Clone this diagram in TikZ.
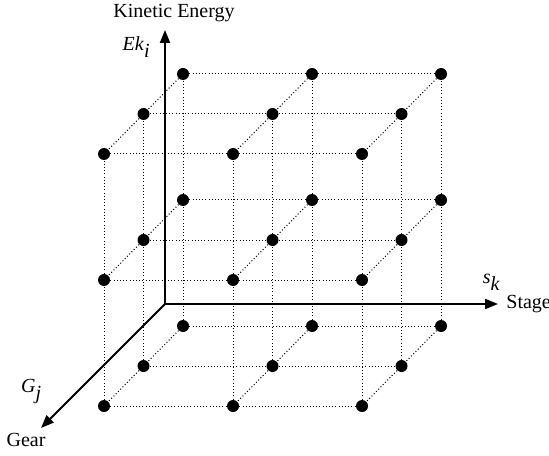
\documentclass[tikz,border=0pt]{standalone}
\usepackage{fontspec}
\setmainfont{Liberation Serif}
\usetikzlibrary{arrows.meta}
\tikzset{
  state/.style={circle,fill=black,inner sep=0pt,minimum size=6pt},
  lattice/.style={black,line width=0.5pt,dash pattern=on 0.5pt off 1.1pt},
  axis/.style={line width=1pt,-{Triangle[length=6.5pt,width=5pt]}},
}
\newcommand{\sublabel}[2]{\textit{#1}$_{\textit{#2}}$}

\begin{document}
\begin{tikzpicture}[x=1pt,y=1pt,font=\fontsize{10}{12}\selectfont]
\useasboundingbox (0,0) rectangle (274.5,227.5);
\begin{scope}[shift={(91.5,64.5)},x={(64.5pt,0pt)},y={(0pt,63pt)},z={(-19.75pt,-20pt)}]
\foreach \i in {0,1,2}{
  \foreach \j in {0,1,2}{
    \foreach \k in {0,1,2}{
      \node[state] (p-\i-\j-\k) at (\i,\j,\k) {};
    }
  }
}
\end{scope}
\foreach \a in {0,1,2}{
  \foreach \b in {0,1,2}{
    \draw[lattice] (p-0-\a-\b) -- (p-1-\a-\b) -- (p-2-\a-\b);
    \draw[lattice] (p-\a-0-\b) -- (p-\a-1-\b) -- (p-\a-2-\b);
    \draw[lattice] (p-\a-\b-0) -- (p-\a-\b-1) -- (p-\a-\b-2);
  }
}
\coordinate (O) at (82.5,75.5);
\coordinate (Ek) at (82.5,212.5);
\coordinate (Sk) at (249,75.5);
\coordinate (Gj) at (20.5,13.5);
\draw[axis] (O) -- (Ek);
\draw[axis] (O) -- (Sk);
\draw[axis] (O) -- (Gj);
\node (kinetic) at (87,221.2) {Kinetic Energy};
\node (eklabel) at (68.3,204) {\sublabel{Ek}{i}};
\node (sklabel) at (245.8,86.6) {\sublabel{s}{k}};
\node[anchor=west,inner sep=1pt] (stage) at (252,75.5) {Stage};
\node (gjlabel) at (15.8,31.7) {\sublabel{G}{j}};
\node (gear) at (13,7.5) {Gear};
\end{tikzpicture}
\end{document}
